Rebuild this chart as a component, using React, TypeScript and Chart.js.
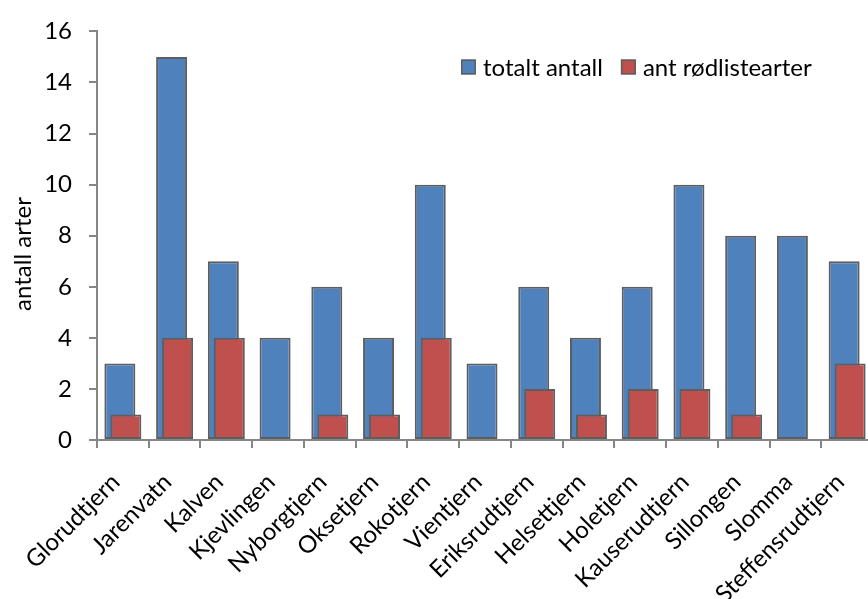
import React, { useEffect, useRef } from "react";
import { Chart, registerables } from "chart.js";

Chart.register(...registerables);

const categories = [
  "Glorudtjern",
  "Jarenvatn",
  "Kalven",
  "Kjevlingen",
  "Nyborgtjern",
  "Oksetjern",
  "Rokotjern",
  "Vientjern",
  "Eriksrudtjern",
  "Helsettjern",
  "Holetjern",
  "Kauserudtjern",
  "Sillongen",
  "Slomma",
  "Steffensrudtjern",
];
const totalCounts = [3, 15, 7, 4, 6, 4, 10, 3, 6, 4, 6, 10, 8, 8, 7];
const redListCounts = [1, 4, 4, 0, 1, 1, 4, 0, 2, 1, 2, 2, 1, 0, 3];
const yTickValues = [0, 2, 4, 6, 8, 10, 12, 14, 16];
const seriesNames = ["totalt antall", "ant rødlistearter"];
const yTitle = "antall arter";

const FONT = "Lato, Carlito, Calibri, sans-serif";
const FONT_SIZE = 24;
const BLUE = "#4F81BD";
const RED = "#C0504D";
const BAR_BORDER = "#5E5E5E";
const AXIS = "#868686";

export default function App() {
  const ref = useRef<HTMLCanvasElement>(null);

  useEffect(() => {
    const canvas = ref.current;
    if (!canvas) return;

    const legendPlugin = {
      id: "insideLegend",
      afterDraw(chart: any) {
        const ctx = chart.ctx;
        ctx.save();
        ctx.font = `${FONT_SIZE}px ${FONT}`;
        ctx.textBaseline = "middle";
        ctx.textAlign = "left";
        const items = chart.data.datasets.slice().reverse();
        let x = 461;
        const y = 67;
        const box = 15;
        items.forEach((ds: any) => {
          ctx.fillStyle = ds.backgroundColor;
          ctx.fillRect(x, y - box / 2, box, box);
          ctx.strokeStyle = BAR_BORDER;
          ctx.lineWidth = 1.5;
          ctx.strokeRect(x + 0.75, y - box / 2 + 0.75, box - 1.5, box - 1.5);
          x += box + 7;
          ctx.fillStyle = "#000";
          ctx.fillText(ds.label, x, y + 1);
          x += ctx.measureText(ds.label).width + 18;
        });
        ctx.restore();
      },
    };

    const titlePlugin = {
      id: "yTitle",
      afterDraw(chart: any) {
        const ctx = chart.ctx;
        ctx.save();
        ctx.font = `${FONT_SIZE}px ${FONT}`;
        ctx.fillStyle = "#000";
        ctx.textAlign = "center";
        ctx.textBaseline = "middle";
        ctx.translate(23, 254);
        ctx.rotate(-Math.PI / 2);
        ctx.fillText(yTitle, 0, 0);
        ctx.restore();
      },
    };

    const chart = new Chart(canvas, {
      type: "bar",
      data: {
        labels: categories,
        datasets: [
          {
            label: seriesNames[1],
            data: redListCounts,
            backgroundColor: RED,
            borderColor: BAR_BORDER,
            borderWidth: 2,
            borderSkipped: false,
            order: 0,
            categoryPercentage: -0.2317,
            barPercentage: -5.17,
          },
          {
            label: seriesNames[0],
            data: totalCounts,
            backgroundColor: BLUE,
            borderColor: BAR_BORDER,
            borderWidth: 2,
            borderSkipped: false,
            order: 1,
            categoryPercentage: -0.2317,
            barPercentage: -5.17,
          },
        ],
      } as any,
      options: {
        responsive: false,
        animation: false,
        devicePixelRatio: 1,
        layout: { padding: { top: 24, right: 7, left: 0, bottom: 0 } },
        plugins: {
          legend: { display: false },
          tooltip: { enabled: false },
          title: { display: false },
        },
        scales: {
          x: {
            grid: {
              display: true,
              drawOnChartArea: false,
              drawTicks: true,
              tickLength: 8,
              color: AXIS,
              lineWidth: 2,
            },
            border: { display: true, color: AXIS, width: 2 },
            ticks: {
              autoSkip: false,
              maxRotation: 45,
              minRotation: 45,
              padding: 20,
              labelOffset: -7,
              color: "#000",
              font: { family: FONT, size: FONT_SIZE },
            },
            afterFit: (s: any) => {
              s.height = 599 - 440;
              s.paddingLeft = 0;
              s.paddingRight = 0;
            },
          },
          y: {
            min: 0,
            max: 16,
            afterBuildTicks: (s: any) => {
              s.ticks = yTickValues.map((v) => ({ value: v }));
            },
            grid: {
              display: true,
              drawOnChartArea: false,
              drawTicks: true,
              tickLength: 8,
              color: AXIS,
              lineWidth: 2,
            },
            border: { display: true, color: AXIS, width: 2 },
            ticks: {
              padding: 17,
              color: "#000",
              font: { family: FONT, size: FONT_SIZE },
            },
            afterFit: (s: any) => {
              s.width = 97;
            },
          },
        },
      } as any,
      plugins: [legendPlugin, titlePlugin],
    });

    return () => chart.destroy();
  }, []);

  return (
    <div
      style={{
        position: "fixed",
        left: 0,
        top: 0,
        width: 868,
        height: 599,
        overflow: "hidden",
        background: "#fff",
      }}
    >
      <canvas ref={ref} width={880} height={599} style={{ display: "block" }} />
    </div>
  );
}
